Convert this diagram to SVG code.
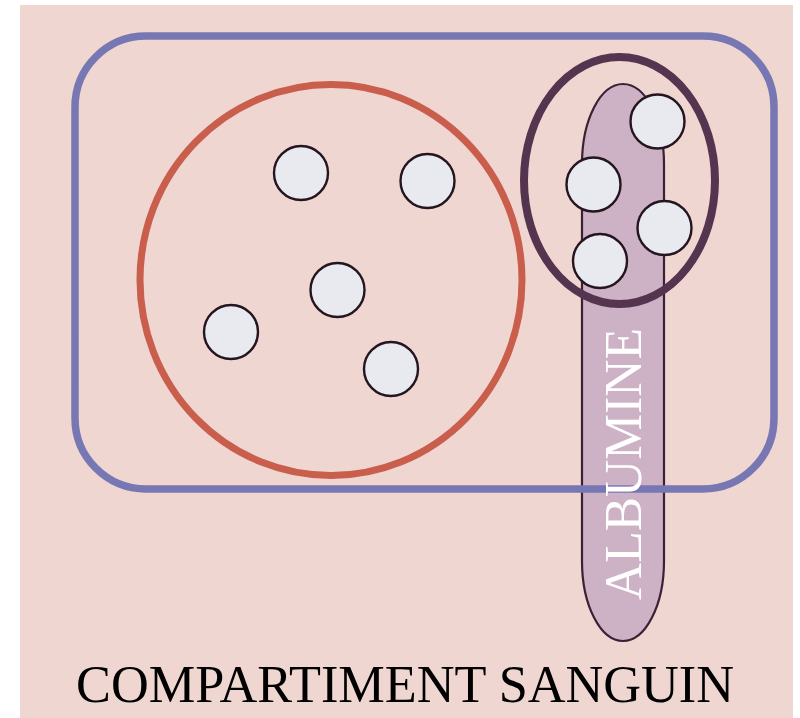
<svg xmlns="http://www.w3.org/2000/svg" width="800" height="718" viewBox="0 0 800 718">
<style>
.bg{fill:#f0d6d1}
.mol{fill:#e9eaef;stroke:#24151f;stroke-width:2.4}
.lbl{font-family:"Liberation Serif","Times New Roman",serif;font-size:52px;text-anchor:middle}
</style>
<rect class="bg" x="20" y="5" width="773" height="713"/>
<g id="albumine-shape">
<rect x="582" y="84" width="82" height="557" rx="41" ry="80" fill="#cdb1c5" stroke="#3a2234" stroke-width="2.2"/>
</g>
<g id="cellule">
<ellipse cx="331" cy="280" rx="191" ry="195.5" fill="none" stroke="#c85e4b" stroke-width="7"/>
</g>
<g id="liaison">
<ellipse cx="619.5" cy="180.5" rx="95.5" ry="123.5" fill="none" stroke="#55344f" stroke-width="8"/>
</g>
<g id="compartiment">
<rect x="75" y="36" width="699" height="453" rx="71" ry="71" fill="none" stroke="#7777b3" stroke-width="7.5"/>
</g>
<g id="molecules">
<circle class="mol" cx="301" cy="173" r="27"/>
<circle class="mol" cx="427.5" cy="181" r="27"/>
<circle class="mol" cx="337.5" cy="290" r="27"/>
<circle class="mol" cx="231" cy="332" r="27"/>
<circle class="mol" cx="391" cy="369" r="27"/>
<circle class="mol" cx="657.5" cy="121.5" r="27"/>
<circle class="mol" cx="593.5" cy="184.5" r="27"/>
<circle class="mol" cx="664.5" cy="228" r="27"/>
<circle class="mol" cx="600" cy="261" r="27"/>
</g>
<g id="albumine-label">
<text class="lbl" transform="translate(641,464) rotate(-90)" x="0" y="0" fill="#ffffff" textLength="272" lengthAdjust="spacingAndGlyphs">ALBUMINE</text>
</g>
<g id="title">
<text class="lbl" x="405" y="702" fill="#000000" textLength="658" lengthAdjust="spacingAndGlyphs">COMPARTIMENT SANGUIN</text>
</g>
</svg>
